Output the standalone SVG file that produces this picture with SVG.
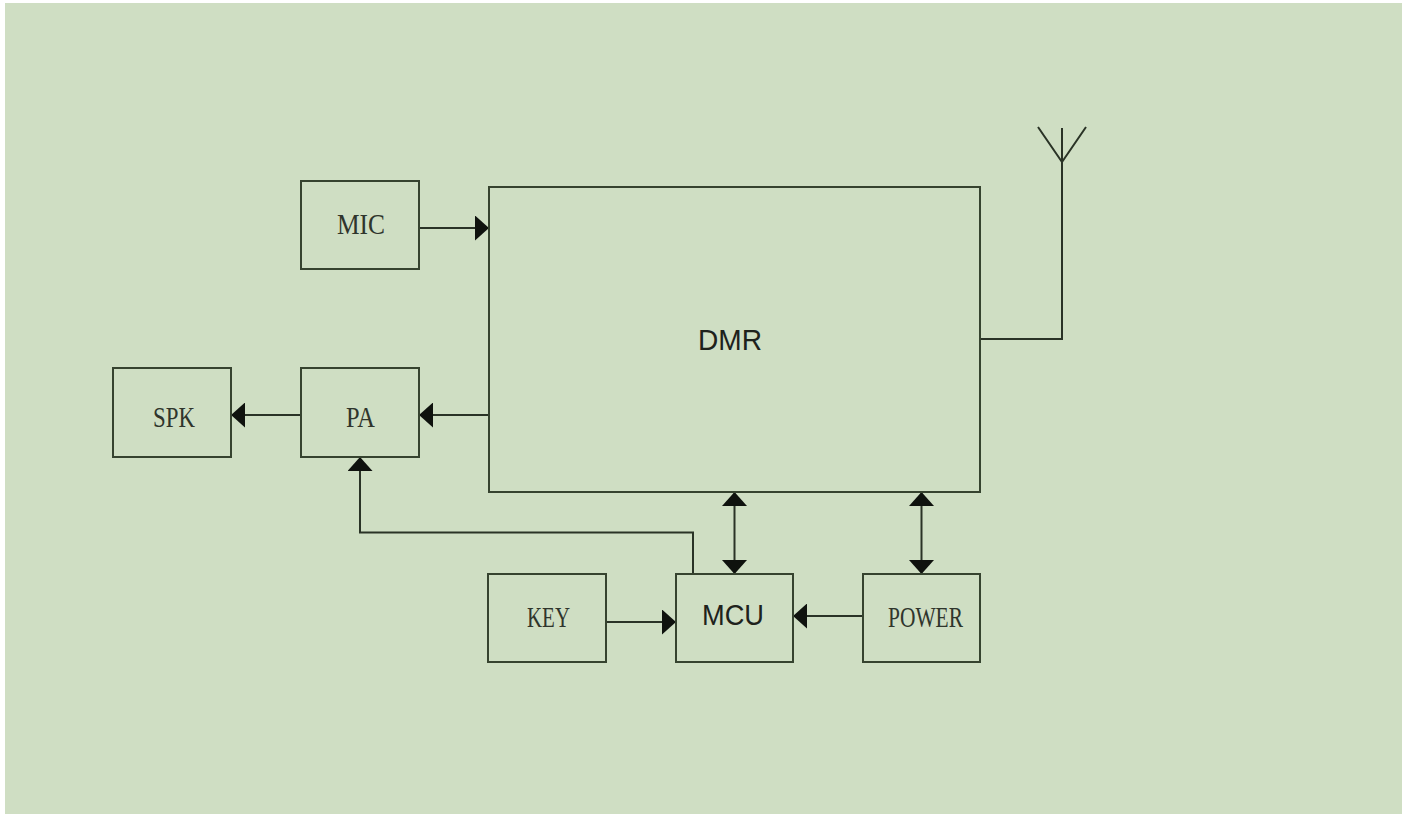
<svg xmlns="http://www.w3.org/2000/svg" width="1410" height="814" viewBox="0 0 1410 814">
<style>
.box{fill:none;stroke:#36432f;stroke-width:2}
.ln{fill:none;stroke:#2a3326;stroke-width:2}
.ser{font-family:"Liberation Serif",serif;font-size:29px;fill:#2f352c}
.san{font-family:"Liberation Sans",Arial,sans-serif;font-size:29px;fill:#1e221c}
</style>
<defs>
<marker id="ah" viewBox="0 0 14 25" refX="14" refY="12.5" markerWidth="14" markerHeight="25" markerUnits="userSpaceOnUse" orient="auto-start-reverse">
<path d="M0,0 L14,12.5 L0,25 Z" fill="#0f120e"/>
</marker>
</defs>
<rect x="0" y="0" width="1410" height="814" fill="#ffffff"/>
<rect x="5" y="3" width="1397" height="811" fill="#cfdec3"/>
<g id="connectors">
<line class="ln" x1="419" y1="228" x2="489" y2="228" marker-end="url(#ah)"/>
<line class="ln" x1="489" y1="415" x2="419" y2="415" marker-end="url(#ah)"/>
<line class="ln" x1="301" y1="415" x2="231" y2="415" marker-end="url(#ah)"/>
<polyline class="ln" points="693,574 693,532.5 360,532.5 360,457" marker-end="url(#ah)"/>
<line class="ln" x1="734.5" y1="492" x2="734.5" y2="574" marker-start="url(#ah)" marker-end="url(#ah)"/>
<line class="ln" x1="921.5" y1="492" x2="921.5" y2="574" marker-start="url(#ah)" marker-end="url(#ah)"/>
<line class="ln" x1="606" y1="622" x2="676" y2="622" marker-end="url(#ah)"/>
<line class="ln" x1="863" y1="616" x2="793" y2="616" marker-end="url(#ah)"/>
<polyline class="ln" points="980,339 1062,339 1062,128"/>
<polyline class="ln" points="1038,127 1062,162 1086,127"/>
</g>
<g id="dmr"><rect class="box" x="489" y="187" width="491" height="305"/><text class="san" x="698" y="350" textLength="64" lengthAdjust="spacingAndGlyphs">DMR</text></g>
<g id="mic"><rect class="box" x="301" y="181" width="118" height="88"/><text class="ser" x="337" y="234" textLength="48" lengthAdjust="spacingAndGlyphs">MIC</text></g>
<g id="pa"><rect class="box" x="301" y="368" width="118" height="89"/><text class="ser" x="346" y="427" textLength="29" lengthAdjust="spacingAndGlyphs">PA</text></g>
<g id="spk"><rect class="box" x="113" y="368" width="118" height="89"/><text class="ser" x="153" y="427" textLength="42" lengthAdjust="spacingAndGlyphs">SPK</text></g>
<g id="key"><rect class="box" x="488" y="574" width="118" height="88"/><text class="ser" x="527" y="627" textLength="43" lengthAdjust="spacingAndGlyphs">KEY</text></g>
<g id="mcu"><rect class="box" x="676" y="574" width="117" height="88"/><text class="san" x="702" y="625" textLength="62" lengthAdjust="spacingAndGlyphs">MCU</text></g>
<g id="power"><rect class="box" x="863" y="574" width="117" height="88"/><text class="ser" x="888" y="627" textLength="75" lengthAdjust="spacingAndGlyphs">POWER</text></g>
</svg>
